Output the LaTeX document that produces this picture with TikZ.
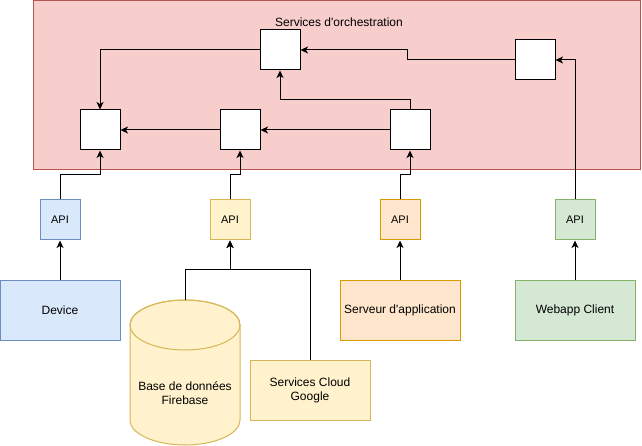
\documentclass[tikz,border=0pt]{standalone}
\usepackage{fontspec}
\setmainfont{Liberation Sans}[Ligatures=TeXOff]
\usetikzlibrary{arrows.meta}
\definecolor{redfill}{HTML}{F8CECC}
\definecolor{redline}{HTML}{B85450}
\definecolor{bluefill}{HTML}{DAE8FC}
\definecolor{blueline}{HTML}{6C8EBF}
\definecolor{yelfill}{HTML}{FFF2CC}
\definecolor{yelline}{HTML}{D6B656}
\definecolor{orfill}{HTML}{FFE6CC}
\definecolor{orline}{HTML}{D79B00}
\definecolor{grfill}{HTML}{D5E8D4}
\definecolor{grline}{HTML}{82B366}
\tikzset{
  svc/.style={draw=black, fill=white, line width=1pt, minimum width=40pt, minimum height=40pt, inner sep=0pt},
  api/.style={draw, line width=1pt, minimum width=40pt, minimum height=40pt, inner sep=0pt, font=\fontsize{11pt}{13pt}\selectfont},
  srcbox/.style={draw, line width=1pt, minimum width=120pt, minimum height=60pt, inner sep=0pt, align=center, font=\fontsize{12pt}{14pt}\selectfont},
  conn/.style={draw=black, line width=1pt, -{Stealth[length=7.5pt,width=7pt,inset=2pt]}},
}
\begin{document}
\begin{tikzpicture}[x=1pt,y=-1pt]
\useasboundingbox (0,0) rectangle (642,446);
% orchestration area
\node[draw=redline, fill=redfill, line width=1pt, minimum width=607pt, minimum height=169pt, inner sep=0pt] (orch) at (337.25,85.5) {};
\node[font=\fontsize{12pt}{14pt}\selectfont, inner sep=0pt] (title) at (339,22) {Services d'orchestration};
% services
\node[svc] (T) at (280,50) {};
\node[svc] (R) at (535,60) {};
\node[svc] (L1) at (100,130) {};
\node[svc] (L2) at (240,130) {};
\node[svc] (L3) at (410,130) {};
% APIs
\node[api, draw=blueline, fill=bluefill] (api1) at (60,220) {API};
\node[api, draw=yelline, fill=yelfill] (api2) at (230,220) {API};
\node[api, draw=orline, fill=orfill] (api3) at (400,220) {API};
\node[api, draw=grline, fill=grfill] (api4) at (575,220) {API};
% sources
\node[srcbox, draw=blueline, fill=bluefill] (device) at (60,310) {Device};
\node[srcbox, draw=yelline, fill=yelfill] (cloud) at (310,390) {Services Cloud\\Google};
\node[srcbox, draw=orline, fill=orfill] (serveur) at (400,310) {Serveur d'application};
\node[srcbox, draw=grline, fill=grfill] (webapp) at (575,310) {Webapp Client};
% database cylinder
\node[minimum width=110pt, minimum height=145pt, inner sep=0pt] (db) at (185,372.5) {};
\filldraw[draw=yelline, fill=yelfill, line width=1pt]
  (130,325) -- (130,420) arc[start angle=180, end angle=360, x radius=55pt, y radius=25pt]
  -- (240,325) arc[start angle=0, end angle=180, x radius=55pt, y radius=25pt] -- cycle;
\draw[draw=yelline, line width=1pt] (185,325) ellipse[x radius=55pt, y radius=25pt];
\node[font=\fontsize{12pt}{14pt}\selectfont, align=center, inner sep=0pt] (dbtext) at (185,393.5) {Base de données\\Firebase};
% connectors inside
\draw[conn] (T.west) -| (L1.north);
\draw[conn] (R.west) -- ++(-107,0) |- (T.east);
\draw[conn] (L3.north) -- ++(0,-10) -| (T.south);
\draw[conn] (L3.west) -- (L2.east);
\draw[conn] (L2.west) -- (L1.east);
% API to services
\draw[conn] (api1.north) -- ++(0,-25) -| (L1.south);
\draw[conn] (api2.north) -- ++(0,-25) -| (L2.south);
\draw[conn] (api3.north) -- ++(0,-25) -| (L3.south);
\draw[conn] (api4.north) |- (R.east);
% sources to APIs
\draw[conn] (device.north) -- (api1.south);
\draw[conn] (serveur.north) -- (api3.south);
\draw[conn] (webapp.north) -- (api4.south);
\draw[conn] (db.north) -- ++(0,-30) -| (api2.south);
\draw[conn] (cloud.north) -- ++(0,-90) -| (api2.south);
\end{tikzpicture}
\end{document}
